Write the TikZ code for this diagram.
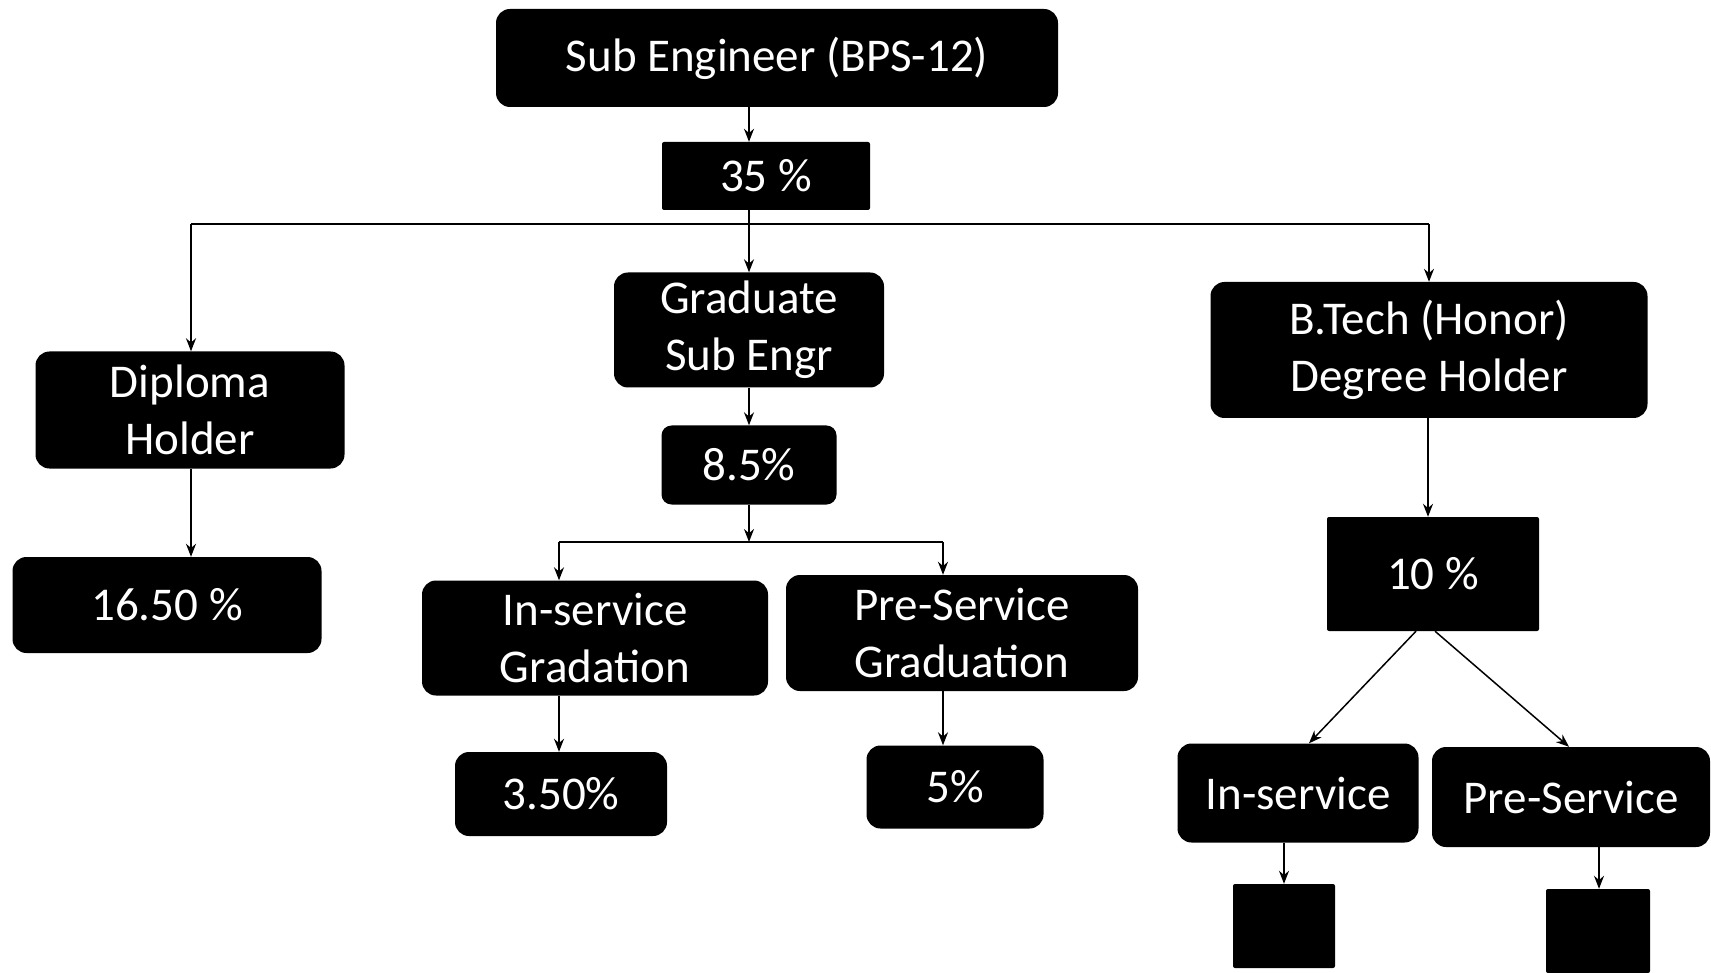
\documentclass[tikz,border=0pt]{standalone}
\usepackage{fontspec}
\setmainfont{Carlito}
\usetikzlibrary{arrows.meta}
\begin{document}
\begin{tikzpicture}[x=1pt,y=-1pt,
 box/.style={fill=black,text=white,rounded corners=14pt,inner sep=0pt,align=center,font=\fontsize{47}{57}\selectfont},
 sq/.style={box,rounded corners=2pt},
 arr/.style={draw=black,line width=1.5pt,-{Stealth[length=13pt,width=10pt]}},
 ln/.style={draw=black,line width=1.5pt}]
\useasboundingbox (0,0) rectangle (1711,973);
% nodes
\node[box,minimum width=562pt,minimum height=98pt] (sub) at (777,58) {Sub Engineer (BPS-12)};
\node[sq,minimum width=208pt,minimum height=68pt] (p35) at (766,176) {35 \%};
\node[box,minimum width=270pt,minimum height=115pt] (grad) at (749,330) {Graduate\\Sub Engr};
\node[box,minimum width=309pt,minimum height=117pt] (dip) at (190,410) {Diploma\\Holder};
\node[box,minimum width=437pt,minimum height=136pt] (btech) at (1429,350) {B.Tech (Honor)\\Degree Holder};
\node[box,rounded corners=10pt,minimum width=175pt,minimum height=79pt] (p85) at (749,465) {8.5\%};
\node[box,minimum width=309pt,minimum height=96pt] (p165) at (167,605) {16.50 \%};
\node[sq,minimum width=212pt,minimum height=114pt] (p10) at (1433,574) {10 \%};
\node[box,minimum width=346pt,minimum height=115pt] (ingrad) at (595,638) {In-service\\Gradation};
\node[box,minimum width=352pt,minimum height=116pt] (pregrad) at (962,633) {Pre-Service\\Graduation};
\node[box,minimum width=212pt,minimum height=84pt] (p350) at (561,794) {3.50\%};
\node[box,minimum width=177pt,minimum height=83pt] (p5) at (955,787) {5\%};
\node[box,minimum width=241pt,minimum height=99pt] (ins) at (1298,793) {In-service};
\node[box,minimum width=278pt,minimum height=100pt] (pres) at (1571,797) {Pre-Service};
\node[sq,minimum width=102pt,minimum height=84pt] (b1) at (1284,926) {};
\node[sq,minimum width=104pt,minimum height=84pt] (b2) at (1598,931) {};
% column coordinates
\coordinate (cA) at (749,0);
\coordinate (cD) at (191,0);
\coordinate (cB) at (1428,0);
\coordinate (cI) at (559,0);
\coordinate (cP) at (943,0);
\coordinate (cL) at (1284,0);
\coordinate (cR) at (1599,0);
\coordinate (bus1L) at (191,224);
\coordinate (bus1M) at (749,224);
\coordinate (bus1R) at (1429,224);
\coordinate (bus2L) at (559,542);
\coordinate (bus2M) at (749,542);
\coordinate (bus2R) at (943,542);
% connectors
\draw[arr] (sub.south -| cA) -- (p35.north -| cA);
\draw[ln] (p35.south -| cA) -- (bus1M);
\draw[ln] (bus1L) -- (bus1R);
\draw[arr] (bus1L) -- (dip.north -| cD);
\draw[arr] (bus1M) -- (grad.north);
\draw[arr] (bus1R) -- (btech.north -| bus1R);
\draw[arr] (grad.south) -- (p85.north);
\draw[arr] (p85.south) -- (bus2M);
\draw[ln] (bus2L) -- (bus2R);
\draw[arr] (bus2L) -- (ingrad.north -| cI);
\draw[arr] (bus2R) -- (pregrad.north -| cP);
\draw[arr] (dip.south -| cD) -- (p165.north -| cD);
\draw[arr] ([yshift=8pt]btech.south -| cB) -- (p10.north -| cB);
\draw[arr] ([xshift=-17pt]p10.south) -- ([xshift=11pt]ins.north);
\draw[arr] ([xshift=2pt]p10.south) -- ([xshift=-2pt]pres.north);
\draw[arr] (ingrad.south -| cI) -- (p350.north -| cI);
\draw[arr] (pregrad.south -| cP) -- (p5.north -| cP);
\draw[arr] (ins.south -| cL) -- (b1.north);
\draw[arr] (pres.south -| cR) -- (b2.north -| cR);
\end{tikzpicture}
\end{document}
